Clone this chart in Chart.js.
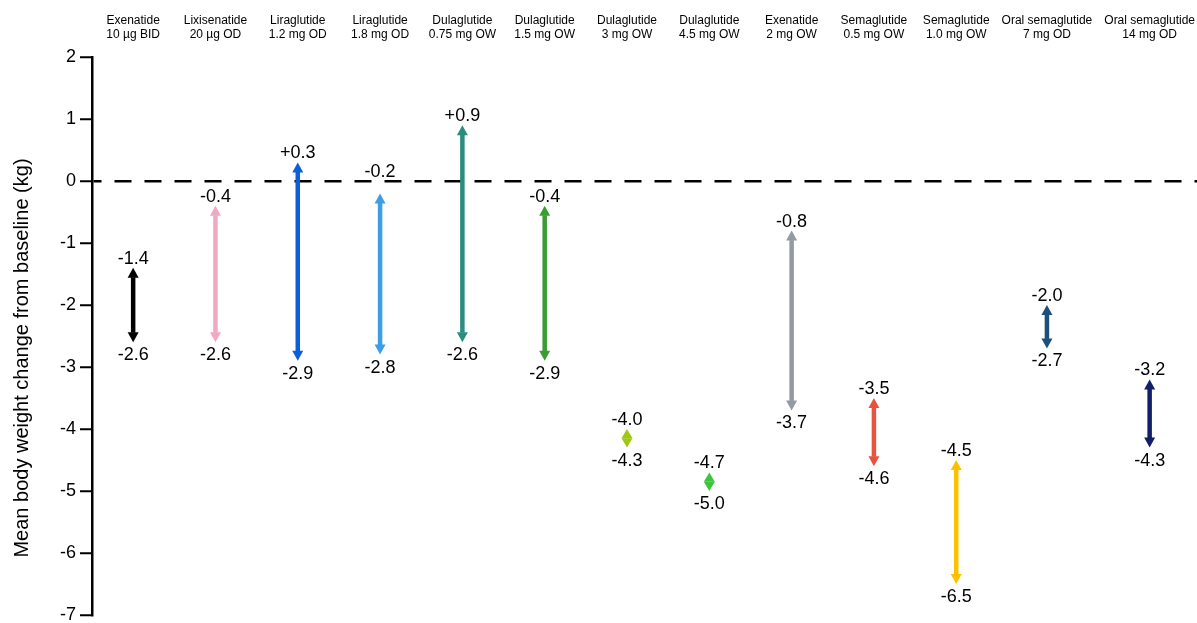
<!DOCTYPE html>
<html>
<head>
<meta charset="utf-8">
<script src="https://cdn.jsdelivr.net/npm/chart.js@4/dist/chart.umd.min.js"></script>
<style>
  html, body { margin: 0; padding: 0; background: #fff; }
  canvas { display: block; }
</style>
</head>
<body>
<canvas id="chart" width="1197" height="623"></canvas>
<script>
// Treatments (header line 1 and line 2)
const drugNames = [
  'Exenatide', 'Lixisenatide', 'Liraglutide', 'Liraglutide',
  'Dulaglutide', 'Dulaglutide', 'Dulaglutide', 'Dulaglutide',
  'Exenatide', 'Semaglutide', 'Semaglutide', 'Oral semaglutide', 'Oral semaglutide'
];
const doses = [
  '10 µg BID', '20 µg OD', '1.2 mg OD', '1.8 mg OD',
  '0.75 mg OW', '1.5 mg OW', '3 mg OW', '4.5 mg OW',
  '2 mg OW', '0.5 mg OW', '1.0 mg OW', '7 mg OD', '14 mg OD'
];

// Range of mean body weight change (kg) for each treatment
const upperChange = [-1.4, -0.4, 0.3, -0.2, 0.9, -0.4, -4.0, -4.7, -0.8, -3.5, -4.5, -2.0, -3.2];
const lowerChange = [-2.6, -2.6, -2.9, -2.8, -2.6, -2.9, -4.3, -5.0, -3.7, -4.6, -6.5, -2.7, -4.3];

// Y axis tick values
const yTicks = [2, 1, 0, -1, -2, -3, -4, -5, -6, -7];
const yTitle = 'Mean body weight change from baseline (kg)';

const arrowColours = [
  '#000000', '#f2a7c3', '#0b5fd8', '#3d9de6',
  '#2a8d80', '#3b9c34', '#9cc812', '#3ec43e',
  '#939aa4', '#e8533d', '#ffc000', '#1b4f7d', '#101f68'
];

const FONT = "'Liberation Sans', Arial, Helvetica, sans-serif";
const HEADER_SIZE = 12;
const VALUE_SIZE = 18;
const Y_AXIS_WIDTH = 92;
const CANVAS_W = 1197;

// Column layout: even spacing, widened where the two-line headers need room.
const measure = document.createElement('canvas').getContext('2d');
measure.font = `${HEADER_SIZE}px ${FONT}`;
const headerWidths = drugNames.map((name, i) =>
  Math.max(measure.measureText(name).width, measure.measureText(doses[i]).width));
const MIN_GAP = 12;
const plotWidth = CANVAS_W - Y_AXIS_WIDTH;
const lastHalf = headerWidths[headerWidths.length - 1] / 2 + 2;
function layoutColumns(pitch) {
  const pos = [0];
  for (let i = 1; i < drugNames.length; i++) {
    const need = (headerWidths[i - 1] + headerWidths[i]) / 2 + MIN_GAP;
    pos.push(pos[i - 1] + Math.max(pitch, need));
  }
  return pos;
}
const rightMargin = p => Math.max(p / 2, lastHalf);
let lo = 1, hi = plotWidth;
for (let k = 0; k < 60; k++) {
  const mid = (lo + hi) / 2;
  const pos = layoutColumns(mid);
  if (mid / 2 + pos[pos.length - 1] + rightMargin(mid) > plotWidth) hi = mid; else lo = mid;
}
const pitch = lo;
const centres = layoutColumns(pitch);

const fmt = v => (v > 0 ? '+' : '') + v.toFixed(1);

// Double-headed arrows with end values written above and below
const rangeArrows = {
  id: 'rangeArrows',
  afterDatasetsDraw(chart) {
    const { ctx } = chart;
    const zeroY = chart.scales.y.getPixelForValue(0);
    const meta = chart.getDatasetMeta(0);
    const SHAFT = 4.5, HEAD_W = 11, HEAD_L = 10;
    meta.data.forEach((bar, i) => {
      const x = bar.x;
      const top = Math.min(bar.y, bar.base);
      const bottom = Math.max(bar.y, bar.base);
      const head = Math.min(HEAD_L, (bottom - top) / 2);
      ctx.save();
      ctx.fillStyle = arrowColours[i];
      if (bottom - top - 2 * head > 0) {
        ctx.fillRect(x - SHAFT / 2, top + head - 0.5, SHAFT, bottom - top - 2 * head + 1);
      }
      ctx.beginPath();
      ctx.moveTo(x, top);
      ctx.lineTo(x + HEAD_W / 2, top + head);
      ctx.lineTo(x - HEAD_W / 2, top + head);
      ctx.closePath();
      ctx.fill();
      ctx.beginPath();
      ctx.moveTo(x, bottom);
      ctx.lineTo(x + HEAD_W / 2, bottom - head);
      ctx.lineTo(x - HEAD_W / 2, bottom - head);
      ctx.closePath();
      ctx.fill();

      ctx.fillStyle = '#000';
      ctx.font = `${VALUE_SIZE}px ${FONT}`;
      ctx.textAlign = 'center';
      ctx.textBaseline = 'alphabetic';
      // keep the upper value clear of the dashed zero line
      let upperBase = top - 4;
      const capTop = upperBase - VALUE_SIZE * 0.72;
      if (upperBase > zeroY - 3 && capTop < zeroY) upperBase = zeroY - 4;
      ctx.fillText(fmt(upperChange[i]), x, upperBase);
      ctx.fillText(fmt(lowerChange[i]), x, bottom + 18);
      ctx.restore();
    });
  }
};

// Rotated y-axis title, set a little below the middle of the plot
const yAxisTitle = {
  id: 'yAxisTitle',
  afterDraw(chart) {
    const { ctx, chartArea } = chart;
    ctx.save();
    ctx.translate(22, (chartArea.top + chartArea.bottom) / 2 + 22);
    ctx.rotate(-Math.PI / 2);
    ctx.fillStyle = '#000';
    ctx.font = `20px ${FONT}`;
    ctx.textAlign = 'center';
    ctx.textBaseline = 'middle';
    ctx.fillText(yTitle, 0, 0);
    ctx.restore();
  }
};

new Chart(document.getElementById('chart'), {
  type: 'bar',
  data: {
    datasets: [{
      data: drugNames.map((_, i) => ({ x: centres[i], y: [lowerChange[i], upperChange[i]] })),
      backgroundColor: 'rgba(0,0,0,0)',
      borderWidth: 0,
      barThickness: 1
    }]
  },
  options: {
    responsive: false,
    devicePixelRatio: 1,
    animation: false,
    layout: { padding: { top: 0, left: 0, right: 0, bottom: 8 } },
    plugins: { legend: { display: false }, tooltip: { enabled: false } },
    scales: {
      x: {
        type: 'linear',
        position: 'top',
        offset: false,
        min: -pitch / 2,
        max: centres[centres.length - 1] + rightMargin(pitch),
        afterBuildTicks: s => { s.ticks = centres.map(v => ({ value: v })); },
        afterFit: s => { s.height = 57; s.paddingLeft = 0; s.paddingRight = 0; },
        grid: { display: false },
        border: { display: false },
        ticks: {
          autoSkip: false,
          maxRotation: 0,
          color: '#000',
          padding: 7,
          font: { size: HEADER_SIZE, family: FONT },
          callback: (v, i) => [drugNames[i], doses[i]]
        }
      },
      y: {
        min: -7,
        max: 2,
        afterBuildTicks: s => { s.ticks = yTicks.map(v => ({ value: v })); },
        afterFit: s => { s.width = Y_AXIS_WIDTH; s.paddingTop = 0; s.paddingBottom = 0; },
        ticks: { color: '#000', padding: 4, font: { size: 18, family: FONT } },
        grid: {
          color: c => (c.tick && c.tick.value === 0 ? '#000' : 'rgba(0,0,0,0)'),
          lineWidth: 2.5,
          tickColor: '#000',
          tickLength: 12,
          tickWidth: 2
        },
        border: { display: true, color: '#000', width: 2.5, dash: [17, 13], dashOffset: 9 }
      }
    }
  },
  plugins: [rangeArrows, yAxisTitle]
});
</script>
</body>
</html>
